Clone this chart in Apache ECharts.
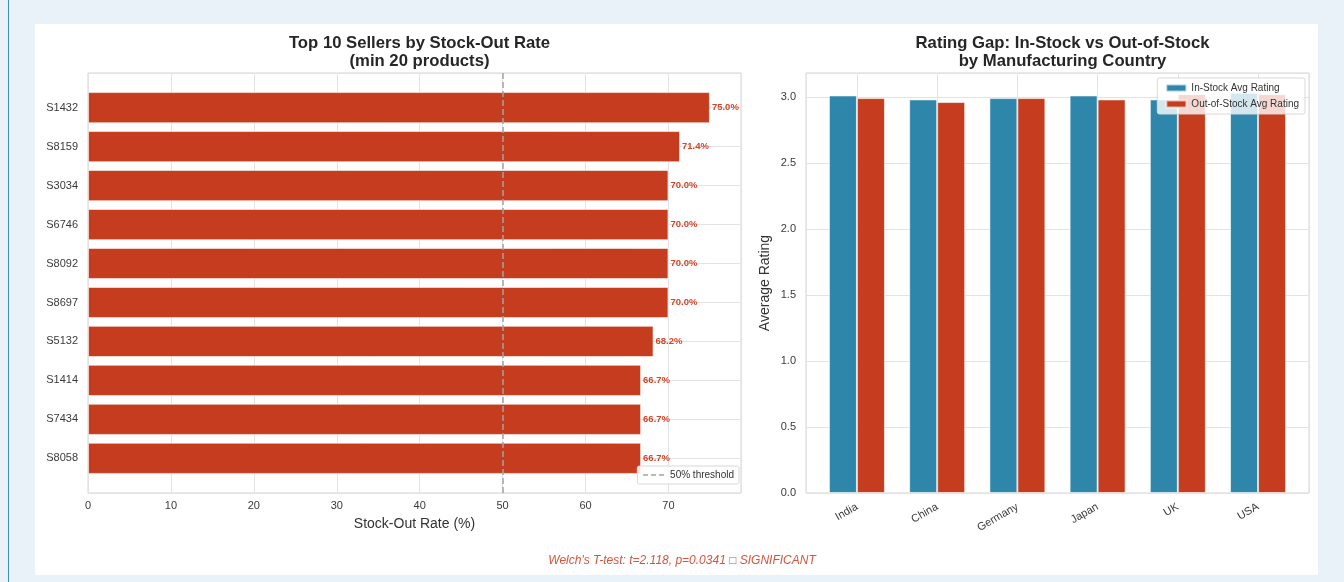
<!DOCTYPE html>
<html>
<head>
<meta charset="utf-8">
<script src="https://cdn.jsdelivr.net/npm/echarts@6/dist/echarts.min.js"></script>
<style>
  html, body { margin: 0; padding: 0; width: 1344px; height: 582px; overflow: hidden; background: #eaf2f9; }
  #edge { position: absolute; left: 8px; top: 0; width: 1px; height: 582px; background: #3d8fc4; }
  #card { position: absolute; left: 35px; top: 24px; width: 1283px; height: 551px; background: #ffffff; }
  #chart { position: absolute; left: 0; top: 0; width: 1344px; height: 582px; }
</style>
</head>
<body>
<div id="edge"></div>
<div id="card"></div>
<div id="chart"></div>
<script>
// Sellers with the highest stock-out rate (at least 20 products each)
const sellers = ['S1432', 'S8159', 'S3034', 'S6746', 'S8092', 'S8697', 'S5132', 'S1414', 'S7434', 'S8058'];
const stockOutRate = [75.0, 71.4, 70.0, 70.0, 70.0, 70.0, 68.2, 66.7, 66.7, 66.7];
const threshold = 50;

// Average rating by manufacturing country
const countries = ['India', 'China', 'Germany', 'Japan', 'UK', 'USA'];
const inStockRating = [3.01, 2.98, 2.99, 3.01, 2.98, 3.03];
const outStockRating = [2.99, 2.96, 2.99, 2.98, 3.02, 3.02];

const rateTicks = [0, 10, 20, 30, 40, 50, 60, 70];
const ratingTicks = [0, 0.5, 1.0, 1.5, 2.0, 2.5, 3.0];

const testNote = "Welch's T-test: t=2.118, p=0.0341 \u25A1 SIGNIFICANT";

const RED = '#c53d1e';
const BLUE = '#2e86ab';
const FONT = '"Liberation Sans", Arial, sans-serif';
const GRID_LINE = '#e3e3e3';
const FRAME = '#d4d4d4';
const TICK_TEXT = '#3a3a3a';
const DASH_GREY = '#a3a3a3';

const chart = echarts.init(document.getElementById('chart'), null, { renderer: 'canvas' });

const leftUnit = 420 / 10.78;           // pixels per bar slot
const leftPad = 0.39 * leftUnit;        // space above the first / below the last slot

chart.setOption({
  animation: false,
  textStyle: { fontFamily: FONT },
  title: [
    {
      text: 'Top 10 Sellers by Stock-Out Rate\n(min 20 products)',
      left: 414.5, top: 29, textAlign: 'center',
      textStyle: { fontSize: 16.7, fontWeight: 'bold', color: '#262626', lineHeight: 18, fontFamily: FONT }
    },
    {
      text: 'Rating Gap: In-Stock vs Out-of-Stock\nby Manufacturing Country',
      left: 1057.5, top: 29, textAlign: 'center',
      textStyle: { fontSize: 16.7, fontWeight: 'bold', color: '#262626', lineHeight: 18, fontFamily: FONT }
    },
    {
      text: testNote,
      left: 677, top: 550, textAlign: 'center',
      textStyle: { fontSize: 12, fontStyle: 'italic', fontWeight: 'normal', color: '#d4553c', fontFamily: FONT }
    }
  ],
  legend: [
    {
      data: ['50% threshold'],
      right: 605, top: 466,
      orient: 'vertical',
      backgroundColor: 'rgba(255,255,255,0.85)',
      borderColor: '#d8d8d8', borderWidth: 1, borderRadius: 2,
      padding: [4, 5, 4, 5],
      itemWidth: 22, itemHeight: 8, itemGap: 2,
      itemStyle: { opacity: 0 },
      lineStyle: { type: [5, 3], color: DASH_GREY, width: 1.5 },
      textStyle: { fontSize: 10, color: '#333', fontFamily: FONT }
    },
    {
      data: ['In-Stock Avg Rating', 'Out-of-Stock Avg Rating'],
      right: 39, top: 78,
      orient: 'vertical',
      icon: 'rect',
      backgroundColor: 'rgba(255,255,255,0.8)',
      borderColor: '#d8d8d8', borderWidth: 1, borderRadius: 2,
      padding: [5, 6, 5, 8],
      itemWidth: 20, itemHeight: 7, itemGap: 6,
      textStyle: { fontSize: 10, color: '#333', fontFamily: FONT }
    }
  ],
  grid: [
    { left: 88, top: 73, width: 653, height: 420, show: true, borderColor: FRAME, borderWidth: 1, backgroundColor: 'transparent' },
    { left: 88, top: 73 + leftPad, width: 653, height: 420 - 2 * leftPad },
    { left: 806, top: 73, width: 503, height: 420, show: true, borderColor: FRAME, borderWidth: 1, backgroundColor: 'transparent' }
  ],
  xAxis: [
    {
      gridIndex: 0, type: 'value', min: 0, max: 78.75, interval: 10,
      axisLine: { show: false }, axisTick: { show: false },
      splitLine: { show: true, lineStyle: { color: GRID_LINE, width: 1 } },
      axisLabel: {
        color: TICK_TEXT, fontSize: 11, margin: 7,
        formatter: v => rateTicks.includes(v) ? String(v) : ''
      },
      name: 'Stock-Out Rate (%)', nameLocation: 'middle', nameGap: 24,
      nameTextStyle: { fontSize: 14, color: '#333', fontFamily: FONT }
    },
    {
      gridIndex: 1, type: 'value', min: 0, max: 78.75, show: false
    },
    {
      gridIndex: 2, type: 'value', min: -0.635, max: 5.635, minInterval: 1, maxInterval: 1,
      axisLine: { show: false }, axisTick: { show: false },
      splitLine: { show: true, lineStyle: { color: GRID_LINE, width: 1 } },
      axisLabel: {
        color: TICK_TEXT, fontSize: 11, rotate: 30, margin: 13,
        formatter: v => (Number.isInteger(v) && countries[v]) ? countries[v] : ''
      }
    }
  ],
  yAxis: [
    {
      gridIndex: 0, type: 'value', inverse: true, min: -0.89, max: 9.89, minInterval: 1, maxInterval: 1,
      axisLine: { show: false }, axisTick: { show: false }, axisLabel: { show: false },
      splitLine: { show: true, lineStyle: { color: GRID_LINE, width: 1 } }
    },
    {
      gridIndex: 1, type: 'category', data: sellers, inverse: true,
      axisLine: { show: false }, axisTick: { show: false }, splitLine: { show: false },
      axisLabel: { color: TICK_TEXT, fontSize: 11, margin: 10 }
    },
    {
      gridIndex: 2, type: 'value', min: 0, max: 3.18, interval: 0.5,
      axisLine: { show: false }, axisTick: { show: false },
      splitLine: { show: true, lineStyle: { color: GRID_LINE, width: 1 } },
      axisLabel: {
        color: TICK_TEXT, fontSize: 11, margin: 10,
        formatter: v => ratingTicks.some(t => Math.abs(t - v) < 1e-9) ? v.toFixed(1) : ''
      },
      name: 'Average Rating', nameLocation: 'middle', nameGap: 34, nameRotate: 90,
      nameTextStyle: { fontSize: 14, color: '#333', fontFamily: FONT }
    }
  ],
  series: [
    {
      name: 'Stock-Out Rate',
      type: 'bar', xAxisIndex: 1, yAxisIndex: 1,
      data: stockOutRate,
      barCategoryGap: '20%',
      itemStyle: { color: RED, borderColor: 'rgba(255,255,255,0.55)', borderWidth: 1 },
      label: {
        show: true, position: 'right', distance: 2,
        formatter: p => p.value.toFixed(1) + '%',
        color: '#d0462b', fontSize: 9.5, fontWeight: 'bold', fontFamily: FONT
      }
    },
    {
      name: '50% threshold',
      type: 'line', xAxisIndex: 0, yAxisIndex: 0,
      data: [], symbol: 'none',
      itemStyle: { color: DASH_GREY },
      lineStyle: { type: [5, 3], color: DASH_GREY, width: 1.5 },
      markLine: {
        silent: true, symbol: 'none',
        label: { show: false },
        lineStyle: { type: [6, 3], color: DASH_GREY, width: 1.5 },
        data: [{ xAxis: threshold }]
      }
    },
    {
      name: 'In-Stock Avg Rating',
      type: 'bar', xAxisIndex: 2, yAxisIndex: 2,
      data: inStockRating.map((v, i) => [i, v]),
      barWidth: 28, barGap: '0%',
      itemStyle: { color: BLUE, borderColor: 'rgba(255,255,255,0.6)', borderWidth: 1 }
    },
    {
      name: 'Out-of-Stock Avg Rating',
      type: 'bar', xAxisIndex: 2, yAxisIndex: 2,
      data: outStockRating.map((v, i) => [i, v]),
      barWidth: 28, barGap: '0%',
      itemStyle: { color: RED, borderColor: 'rgba(255,255,255,0.6)', borderWidth: 1 }
    }
  ]
});
</script>
</body>
</html>
